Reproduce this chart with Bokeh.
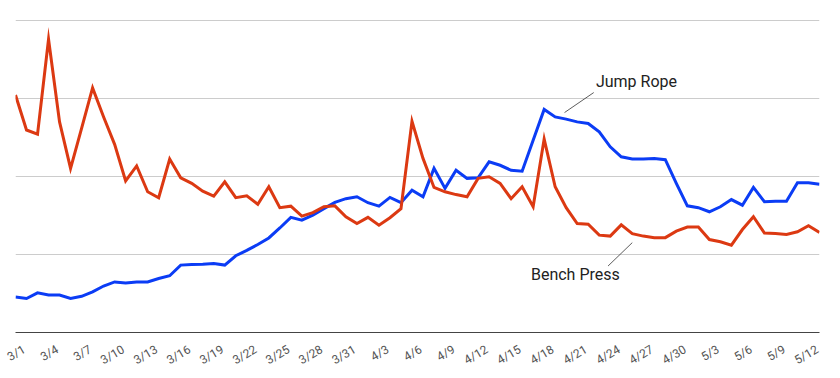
from math import pi
from bokeh.plotting import figure
from bokeh.models import Range1d, FixedTicker, LinearAxis, Label
from bokeh.embed import file_html
from bokeh.resources import INLINE

# ---- data (index 0 = 3/1, daily) ----
bench_press = [76.1, 64.9, 63.6, 94.0, 67.5, 52.6, 65.4, 78.4, 69.1, 60.3,
               48.6, 53.4, 45.1, 43.2, 55.6, 49.6, 47.8, 45.3, 43.7, 48.3,
               43.2, 43.8, 41.1, 46.7, 40.0, 40.5, 37.3, 38.4, 40.3, 40.6,
               37.1, 34.9, 36.9, 34.4, 36.8, 39.7, 67.7, 55.8, 46.5, 45.1,
               44.2, 43.5, 49.4, 49.9, 47.8, 42.9, 46.7, 40.3, 62.0, 46.7,
               40.0, 34.9, 34.7, 31.2, 30.9, 34.5, 31.7, 30.9, 30.4, 30.4,
               32.5, 33.8, 33.8, 29.8, 29.1, 28.0, 33.0, 37.1, 31.9, 31.7,
               31.4, 32.3, 34.2, 32.1]
jump_rope = [11.4, 10.9, 12.7, 12.0, 12.0, 10.9, 11.6, 13.0, 14.9, 16.2,
             15.9, 16.2, 16.2, 17.3, 18.2, 21.6, 21.8, 21.9, 22.1, 21.6,
             24.6, 26.3, 28.2, 30.3, 33.5, 36.9, 36.0, 37.6, 39.7, 41.7,
             42.9, 43.5, 41.6, 40.5, 43.3, 41.6, 45.6, 43.5, 52.6, 46.2,
             52.0, 49.4, 49.6, 54.7, 53.6, 52.0, 51.7, 61.6, 71.5, 69.1,
             68.4, 67.5, 67.0, 64.3, 59.5, 56.3, 55.6, 55.6, 55.8, 55.4,
             47.8, 40.6, 40.0, 38.7, 40.3, 42.6, 40.8, 46.5, 41.9, 42.1,
             42.1, 48.0, 48.0, 47.5]
days = list(range(len(bench_press)))
tick_labels = ["3/1", "3/4", "3/7", "3/10", "3/13", "3/16", "3/19", "3/22",
               "3/25", "3/28", "3/31", "4/3", "4/6", "4/9", "4/12", "4/15",
               "4/18", "4/21", "4/24", "4/27", "4/30", "5/3", "5/6", "5/9", "5/12"]
tick_positions = [0, 3, 6, 9, 12, 15, 18, 21, 24, 27, 30, 33, 36, 39, 42, 45,
                  48, 51, 54, 57, 60, 63, 66, 69, 72]
grid_values = [25, 50, 75, 100]

FONT = "Roboto"
RED = "#dc3912"
BLUE = "#0b3cf5"
X_END = 73
LABEL_SHIFT = 0.8  # slanted labels are anchored at their end; shift so they centre on the day

p = figure(frame_width=804, frame_height=320, output_backend="svg", toolbar_location=None,
           x_range=Range1d(0, X_END), y_range=Range1d(0, 100 * 320 / 312),
           x_axis_location=None, y_axis_location=None,
           min_border_left=15, min_border_right=13, min_border_top=12,
           min_border_bottom=20)
p.outline_line_color = None
p.background_fill_color = "white"
p.border_fill_color = "white"

p.xgrid.visible = False
p.ygrid.ticker = FixedTicker(ticks=grid_values)
p.ygrid.grid_line_color = "#cccccc"
p.ygrid.grid_line_width = 1

# date axis (baseline + slanted labels)
p.extra_x_ranges = {"labels": Range1d(-LABEL_SHIFT, X_END - LABEL_SHIFT)}
xaxis = LinearAxis(x_range_name="labels",
                   ticker=FixedTicker(ticks=tick_positions),
                   major_label_overrides={t: s for t, s in zip(tick_positions, tick_labels)},
                   major_label_orientation=pi / 6,
                   major_label_standoff=16,
                   major_tick_in=0, major_tick_out=0,
                   minor_tick_in=0, minor_tick_out=0,
                   major_tick_line_color=None, minor_tick_line_color=None,
                   axis_line_color="#444444", axis_line_width=1,
                   major_label_text_font=FONT,
                   major_label_text_font_size="12px",
                   major_label_text_color="#555555")
p.add_layout(xaxis, "below")

p.line(days, jump_rope, line_color=BLUE, line_width=3, line_join="miter")
p.line(days, bench_press, line_color=RED, line_width=3, line_join="miter")

# series annotations with leader lines
p.segment(x0=[52.5, 56.0], y0=[76.9, 28.8], x1=[49.85, 53.8], y1=[70.5, 21.3],
          line_color="#333333", line_width=0.8)
p.add_layout(Label(x=52.7, y=80.4, text="Jump Rope", text_font=FONT,
                   text_font_size="16px", text_color="#222222",
                   text_baseline="alphabetic", text_align="left"))
p.add_layout(Label(x=46.8, y=18.6, text="Bench Press", text_font=FONT,
                   text_font_size="16px", text_color="#222222",
                   text_baseline="alphabetic", text_align="left"))

open("out.html", "w").write(file_html(p, INLINE))
